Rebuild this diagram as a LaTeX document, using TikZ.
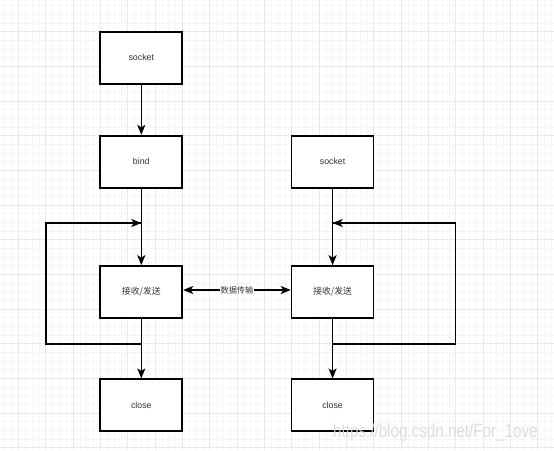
\documentclass[tikz,border=0pt]{standalone}
\usepackage{fontspec}
\setmainfont{Liberation Sans}
\newfontfamily\cjk{Noto Sans CJK SC}
\usetikzlibrary{arrows.meta}
\definecolor{minorgrid}{HTML}{F6F6F6}
\definecolor{majorgrid}{HTML}{E8E8E8}
\definecolor{txt}{HTML}{333333}
\tikzset{
  box/.style={draw=black, line width=1.7pt, fill=white, minimum width=82pt, minimum height=52pt, inner sep=0pt, text=txt, font=\fontsize{8.8}{10}\selectfont},
  arr/.style={line width=1.6pt, -{Stealth[length=10pt,width=8pt,inset=2.5pt]}},
  darr/.style={line width=1.6pt, {Stealth[length=10pt,width=8pt,inset=2.5pt]}-{Stealth[length=10pt,width=8pt,inset=2.5pt]}},
  ln/.style={line width=1.6pt},
}
\begin{document}
\begin{tikzpicture}[x=1pt,y=-1pt]
\useasboundingbox (0,0) rectangle (554,450);
\fill[white] (0,0) rectangle (554,450);
% grid
\foreach \i in {0,...,80} {
  \pgfmathsetmacro{\xx}{4.67+\i*6.833}
  \draw[minorgrid, line width=0.6pt] (\xx,0) -- (\xx,450);
}
\foreach \i in {0,...,52} {
  \pgfmathsetmacro{\yy}{5.7+\i*8.667}
  \draw[minorgrid, line width=0.6pt] (0,\yy) -- (554,\yy);
}
\foreach \i in {0,...,20} {
  \pgfmathsetmacro{\xx}{18.3+\i*27.333}
  \draw[majorgrid, line width=0.8pt] (\xx,0) -- (\xx,450);
}
\foreach \i in {0,...,13} {
  \pgfmathsetmacro{\yy}{-3+\i*34.667}
  \draw[majorgrid, line width=0.8pt] (0,\yy) -- (554,\yy);
}
% nodes
\node[box] (sockL) at (141.3,57.7) {socket};
\node[box] (bindL) at (141.3,161.7) {bind};
\node[box] (recvL) at (141.3,292) {\cjk 接收/发送};
\node[box] (closeL) at (141.3,405.3) {close};
\node[box] (sockR) at (332.6,161.7) {socket};
\node[box] (recvR) at (332.6,292) {\cjk 接收/发送};
\node[box] (closeR) at (332.6,405.3) {close};
% left connectors
\draw[arr] (sockL) -- (bindL);
\draw[arr] (bindL) -- (recvL);
\draw[arr] (recvL) -- (closeL);
\coordinate (lb) at (141.3,344);
\coordinate (lc1) at (45.7,344);
\coordinate (lc2) at (45.7,223);
\coordinate (lt) at (141.3,223);
\draw[ln] (lb) -- (lc1) -- (lc2) -- (lt);
\draw[arr] (lc2) -- (lt);
% right connectors
\draw[arr] (sockR) -- (recvR);
\draw[arr] (recvR) -- (closeR);
\coordinate (rb) at (332.6,344);
\coordinate (rc1) at (455.6,344);
\coordinate (rc2) at (455.6,223);
\coordinate (rt) at (332.6,223);
\draw[ln] (rb) -- (rc1) -- (rc2) -- (rt);
\draw[arr] (rc2) -- (rt);
% data transfer
\draw[darr] ([yshift=2pt]recvL.east) -- node[fill=white, inner sep=1pt, text=txt, font=\cjk\fontsize{8.2}{9}\selectfont] (lbl) {数据传输} ([yshift=2pt]recvR.west);
% watermark
\node[anchor=base west, inner sep=0pt, text=black!15, opacity=0.85, font=\fontsize{19}{20}\selectfont, xscale=0.8] (wm) at (333,437) {https://blog.csdn.net/For\_1ove};
\end{tikzpicture}
\end{document}
